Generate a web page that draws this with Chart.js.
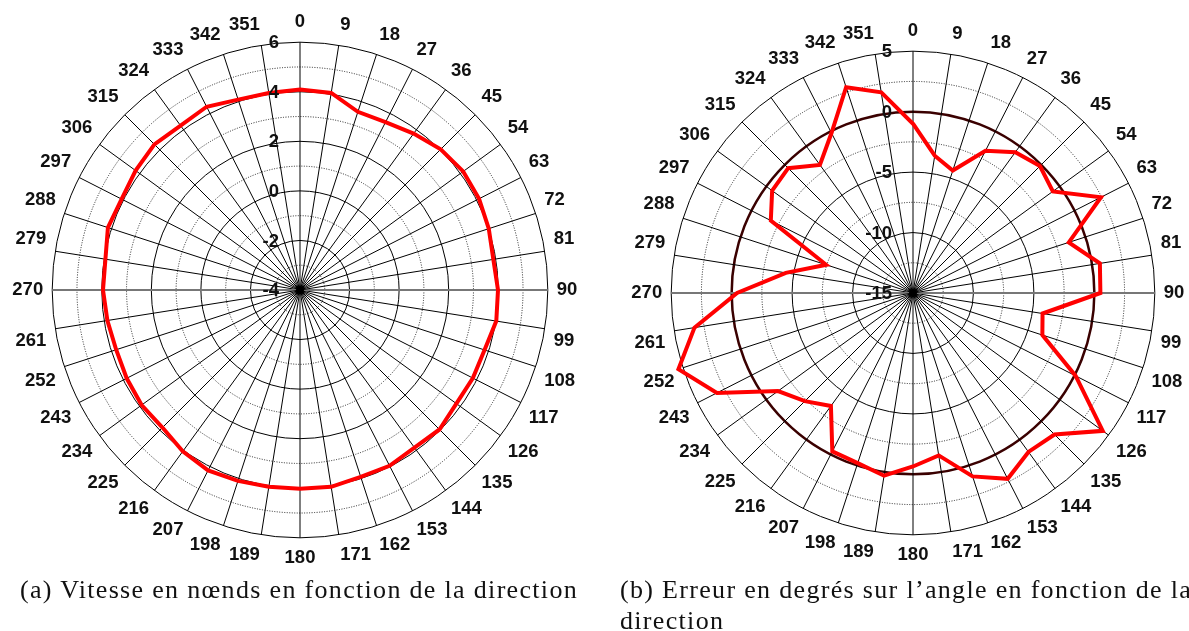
<!DOCTYPE html>
<html>
<head>
<meta charset="utf-8">
<script src="https://cdn.jsdelivr.net/npm/chart.js@4"></script>
<style>
  html, body { margin: 0; padding: 0; background: #fff; overflow: hidden; width: 1189px; height: 631px; }
  canvas { position: absolute; top: 0; }
  #speedChart { left: 0; }
  #errorChart { left: 620px; }
  .cap { position: absolute; font-family: "Liberation Serif", "DejaVu Serif", serif; font-size: 26px; letter-spacing: 1.32px; color: #111; white-space: nowrap; line-height: 31px; }
  #capA { left: 20px; top: 574px; }
  #capB { left: 620px; top: 574px; }
</style>
</head>
<body>
<canvas id="speedChart" width="600" height="580"></canvas>
<canvas id="errorChart" width="590" height="580"></canvas>
<div class="cap" id="capA">(a) Vitesse en nœnds en fonction de la direction</div>
<div class="cap" id="capB">(b) Erreur en degrés sur l’angle en fonction de la<br>direction</div>
<script>
// directions, every 9 degrees
const directions = []
for (let a = 0; a < 360; a += 9) directions.push(String(a))

// (a) speed in knots
const speedValues = [4.09, 4.05, 3.56, 3.6, 3.8, 4.03, 4.14, 4.11, 4.01, 3.9,
                     3.99, 4.02, 3.83, 3.83, 3.8, 3.96, 3.86, 3.96, 3.93, 4.04,
                     4.02, 4.04, 4.1, 4.17, 4.05, 3.85, 3.9, 3.85, 3.8, 3.87,
                     3.95, 3.95, 4.15, 4.08, 4.2, 4.31, 4.2, 4.3, 4.08, 4.05]
const speedTicks = [-4, -2, 0, 2, 4, 6]

// (b) angle error in degrees
const errorValues = [-1, -3.5, -4.35, -1.8, -0.6, -0.15, -0.7, 2.45, -1.45, 0.65,
                     0.5, -4.15, -3.75, 0.1, 4.4, 1.55, 1.25, 2.25, 0.95, -1.4,
                     -0.65, 0.3, -0.2, -0.3, -3.45, -2.35, -1.2, 3.2, 5.4, 3.3,
                     -0.45, -4.35, -7.45, -1.8, -0.6, -0.4, -1.9, -0.15, 2.9, 1.8]
const errorTicks = [-15, -10, -5, 0, 5]

const labelFont = {family: '"Liberation Sans", Arial, sans-serif', size: 18.5, weight: 'bold'}

// the value labels sit just left of the vertical axis
const tickText = {
    id: 'tickText',
    afterDatasetsDraw(chart, args, opts) {
        const s = chart.scales.r
        const ctx = chart.ctx
        ctx.save()
        ctx.font = 'bold 18.5px "Liberation Sans", Arial, sans-serif'
        ctx.fillStyle = '#111'
        ctx.textAlign = 'right'
        ctx.textBaseline = 'middle'
        opts.values.forEach(function (v) {
            const d = s.getDistanceFromCenterForValue(v)
            ctx.fillText(String(v), s.xCenter - opts.dx, s.yCenter - d + opts.dy)
        })
        // dense spokes meet in a black hub
        ctx.beginPath()
        ctx.arc(s.xCenter, s.yCenter, 4, 0, Math.PI * 2)
        ctx.fillStyle = '#000'
        ctx.fill()
        ctx.restore()
    }
}

function polar(id, values, min, max, step, ticks, pad, isMajor, isZero){
    return new Chart(document.getElementById(id), {
        type: 'radar',
        data: {
            labels: directions,
            datasets: [{
                data: values,
                borderColor: '#ff0000',
                borderWidth: 4,
                pointRadius: 0,
                fill: false
            }]
        },
        options: {
            responsive: false,
            animation: false,
            layout: {padding: pad},
            plugins: {
                legend: {display: false},
                tooltip: {enabled: false},
                tickText: {values: ticks, dx: 21, dy: 1}
            },
            scales: {
                r: {
                    min: min,
                    max: max,
                    ticks: {stepSize: step, display: false},
                    grid: {
                        circular: true,
                        color: function (c) {
                            if (isZero(c.tick.value)) return '#3a0000'
                            return isMajor(c.tick.value) ? '#000' : '#222'
                        },
                        lineWidth: function (c) {
                            return isZero(c.tick.value) ? 2.5 : 1
                        }
                    },
                    border: {
                        dash: function (c) {
                            return isMajor(c.tick.value) ? [] : [1, 1.5]
                        }
                    },
                    angleLines: {
                        color: function (c) {
                            return (c.index === 10 || c.index === 30) ? '#777' : '#000'
                        },
                        lineWidth: function (c) {
                            return (c.index === 10 || c.index === 30) ? 2 : 1
                        }
                    },
                    pointLabels: {
                        font: labelFont,
                        color: '#111',
                        padding: 9
                    }
                }
            }
        },
        plugins: [tickText]
    })
}

polar('speedChart', speedValues, -4, 6, 1, speedTicks,
      {top: 12, bottom: 10, left: 0, right: 10},
      function (v) { return Math.round(v) % 2 === 0 },
      function (v) { return false })
polar('errorChart', errorValues, -15, 5, 2.5, errorTicks,
      {top: 21, bottom: 13, left: 0, right: 14},
      function (v) { return Math.abs(v % 5) < 0.01 },
      function (v) { return Math.abs(v) < 0.01 })
</script>
</body>
</html>
